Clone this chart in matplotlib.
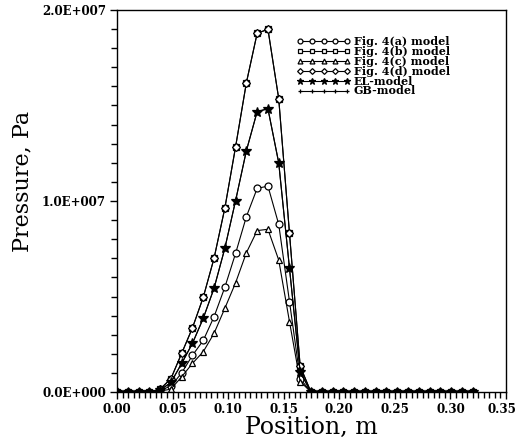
import numpy as np
import matplotlib
matplotlib.use("Agg")
import matplotlib.pyplot as plt
import matplotlib.transforms as mtrans
from matplotlib.ticker import MultipleLocator, FixedLocator, FixedFormatter

# =========================================================================================
# Du lieu doc tu hinh (Pa), vi tri (m)
# =========================================================================================
vi_tri = [0.0000, 0.0097, 0.0194, 0.0291, 0.0388, 0.0485, 0.0582, 0.0679, 0.0776, 0.0873,
          0.0970, 0.1067, 0.1164, 0.1261, 0.1358, 0.1455, 0.1552, 0.1648, 0.1745, 0.1842,
          0.1939, 0.2036, 0.2133, 0.2230, 0.2327, 0.2424, 0.2521, 0.2618, 0.2715, 0.2812,
          0.2909, 0.3006, 0.3103, 0.3200]

# gia tri theo don vi 1e6 Pa, cac diem con lai bang 0
p_fig4a = [0, 0, 0, 0, 0.10, 0.30, 1.00, 1.92, 2.70, 3.94, 5.48, 7.26, 9.18, 10.66, 10.78, 8.78, 4.73, 0.70]
p_fig4b = [0, 0, 0, 0, 0.15, 0.70, 2.03, 3.36, 4.96, 7.00, 9.62, 12.84, 16.19, 18.78, 18.99, 15.36, 8.31, 1.35]
p_fig4c = [0, 0, 0, 0, 0.05, 0.15, 0.80, 1.50, 2.11, 3.07, 4.38, 5.72, 7.29, 8.45, 8.52, 6.91, 3.68, 0.55]
p_fig4d = [0, 0, 0, 0, 0.15, 0.70, 2.03, 3.36, 4.96, 7.00, 9.62, 12.84, 16.19, 18.78, 18.99, 15.36, 8.31, 1.35]
p_el    = [0, 0, 0, 0, 0.10, 0.50, 1.50, 2.55, 3.86, 5.43, 7.52, 10.02, 12.63, 14.68, 14.83, 12.00, 6.48, 1.05]
p_gb    = [0, 0, 0, 0, 0.10, 0.50, 1.50, 2.55, 3.86, 5.43, 7.52, 10.02, 12.63, 14.68, 14.83, 12.00, 6.48, 1.05]

ten_duong = ["Fig. 4(a) model", "Fig. 4(b) model", "Fig. 4(c) model",
             "Fig. 4(d) model", "EL-model", "GB-model"]
nhan_y = ["0.0E+000", "1.0E+007", "2.0E+007"]
nhan_x = ["0.00", "0.05", "0.10", "0.15", "0.20", "0.25", "0.30", "0.35"]


def DuLieuDay(p):
    # bo sung cac diem bang 0 phia sau dinh ap suat
    y = np.zeros(len(vi_tri))
    y[:len(p)] = np.array(p) * 1e6
    return y


# =========================================================================================
# Ve bieu do
# =========================================================================================
plt.rcParams['font.family'] = ['DejaVu Serif']
fig = plt.figure(figsize=(5.18, 4.42), dpi=100)
ax = fig.add_axes([0.2259, 0.1131, 0.7509, 0.8643])

kieu = [("o", "white"), ("s", "white"), ("^", "white"),
        ("D", "white"), ("*", "black"), ("+", "black")]
ds_p = [p_fig4a, p_fig4b, p_fig4c, p_fig4d, p_el, p_gb]
for p, (mk, mau), ten in zip(ds_p, kieu, ten_duong):
    ms = 5
    if mk == "D":
        ms = 4.2
    if mk == "*":
        ms = 7
    ax.plot(vi_tri, DuLieuDay(p), color="black", lw=0.8, marker=mk,
            markersize=ms, markerfacecolor=mau, markeredgecolor="black",
            markeredgewidth=0.9, label=ten)

ax.set_xlim(0, 0.35)
ax.set_ylim(0, 2e7)
ax.xaxis.set_major_locator(FixedLocator([0.0, 0.05, 0.10, 0.15, 0.20, 0.25, 0.30, 0.35]))
ax.xaxis.set_major_formatter(FixedFormatter(nhan_x))
ax.xaxis.set_minor_locator(MultipleLocator(0.005))
ax.yaxis.set_major_locator(FixedLocator([0, 1e7, 2e7]))
ax.yaxis.set_major_formatter(FixedFormatter(nhan_y))
ax.yaxis.set_minor_locator(MultipleLocator(1e6))
ax.tick_params(which="major", direction="out", length=5, width=1.0,
               labelsize=8.6, pad=3)
ax.tick_params(which="minor", direction="out", length=4, width=1.0)
for lb in ax.get_xticklabels() + ax.get_yticklabels():
    lb.set_fontweight("bold")
for s in ax.spines.values():
    s.set_linewidth(1.0)

# nhan 0.35 dich sang trai mot chut de khong bi cat o mep hinh
nhan_cuoi = ax.get_xticklabels()[-1]
nhan_cuoi.set_transform(nhan_cuoi.get_transform() +
                        mtrans.ScaledTranslation(-4 / 100, 0, fig.dpi_scale_trans))

ax.set_xlabel("Position, m", fontsize=17, labelpad=0)
ax.set_ylabel("Pressure, Pa", fontsize=16, labelpad=4)
ax.yaxis.set_label_coords(-0.215, 0.55)

ax.legend(loc="upper left", bbox_to_anchor=(297 / 518, 1 - 36 / 442),
          bbox_transform=fig.transFigure, frameon=False, numpoints=5,
          markerscale=0.7, handlelength=4.8, handletextpad=0.3,
          labelspacing=-0.1, borderpad=0, borderaxespad=0,
          prop={"size": 8, "weight": "bold"})

fig.savefig("out.png", dpi=100)
